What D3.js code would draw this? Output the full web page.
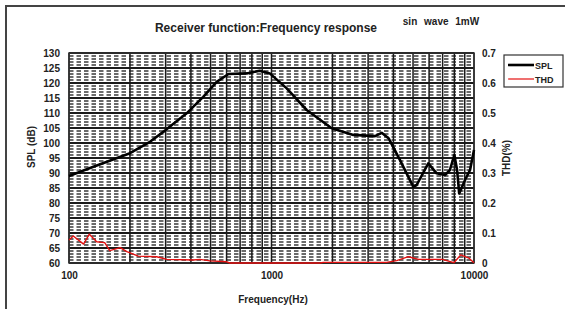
<!DOCTYPE html>
<html>
<head>
<meta charset="utf-8">
<script src="https://cdn.jsdelivr.net/npm/d3@7"></script>
<style>
  body { margin: 0; background: #fff; }
  svg { display: block; font-family: "Liberation Sans", Arial, sans-serif; }
  .tick-lbl { font-size: 10px; font-weight: bold; fill: #222; }
</style>
</head>
<body>
<svg id="chart" width="565" height="309"></svg>
<script>
// ---- data ----
var splFreq = [100, 132, 200, 251, 300, 381, 460, 536, 613, 754, 875, 981, 1189, 1492, 1983, 2535, 3245, 3500, 3784, 4311, 5015, 5210, 5945, 6541, 7193, 7600, 7998, 8250, 8450, 9033, 9560, 10000];
var splVal  = [89.0, 92.1, 96.6, 100.4, 104.3, 109.9, 115.4, 120.4, 123.0, 123.2, 124.1, 123.2, 118.2, 111.0, 104.9, 102.7, 102.3, 103.4, 101.6, 94.3, 85.4, 86.0, 93.2, 89.9, 89.3, 91.0, 96.0, 91.0, 83.2, 87.7, 91.0, 97.7];

var thdFreq = [100, 105, 118, 126, 137, 150, 159, 179, 193, 220, 271, 304, 411, 443, 497, 600, 624, 1736, 1803, 3700, 4150, 4745, 5330, 6090, 6965, 7960, 8600, 9450, 10000];
var thdVal  = [0.077, 0.09, 0.063, 0.096, 0.071, 0.068, 0.041, 0.051, 0.038, 0.023, 0.021, 0.012, 0.010, 0.012, 0.007, 0.004, 0, 0, 0.002, 0.002, 0.008, 0.021, 0.012, 0.012, 0.012, 0.001, 0.027, 0.016, 0.001];

var splTicks = d3.range(60, 131, 5);
var thdTicks = [0, 0.1, 0.2, 0.3, 0.4, 0.5, 0.6, 0.7];
var freqTicks = [100, 1000, 10000];
var legendKeys = ['SPL', 'THD'];
var legendColors = ['#000', '#e41010'];

var svg = d3.select("#chart");
var margin = {top: 53, left: 69, bottom: 46, right: 91};
var width = 565, height = 309;

// outer chart frame (runs off the picture at right/bottom)
svg.append("rect")
    .attr("x", 6).attr("y", 6)
    .attr("width", 700).attr("height", 400)
    .attr("fill", "#fff")
    .attr("stroke", "#444").attr("stroke-width", 2);

var x = d3.scaleLog()
    .domain([100, 10000])
    .range([margin.left, width - margin.right]);

var y = d3.scaleLinear()
    .domain([60, 130])
    .range([height - margin.bottom, margin.top]);

var y2 = d3.scaleLinear()
    .domain([0, 0.7])
    .range([height - margin.bottom, margin.top]);

var x0 = x.range()[0], x1 = x.range()[1];
var yb = y.range()[0], yt = y.range()[1];

var grid = svg.append("g");

// fine hatching: dashed horizontal lines every 1 dB
grid.selectAll("line.minor-h")
    .data(d3.range(60, 130, 1).filter(d => d % 5 != 0))
  .enter().append("line")
    .attr("x1", x0).attr("x2", x1)
    .attr("y1", d => y(d)).attr("y2", d => y(d))
    .attr("stroke", "#3a3a3a").attr("stroke-width", 1.3)
    .attr("stroke-dasharray", "4.5,3");

// log-decade vertical grid
var vlines = [];
[100, 1000].forEach(function(dec) {
    for (var k = 1; k <= 9; k++) vlines.push(dec * k);
});
vlines.push(10000);

grid.selectAll("line.major-v")
    .data(vlines)
  .enter().append("line")
    .attr("x1", d => x(d)).attr("x2", d => x(d))
    .attr("y1", yt).attr("y2", yb)
    .attr("stroke", "#1a1a1a").attr("stroke-width", 1.5);

grid.selectAll("line.major-h")
    .data(splTicks)
  .enter().append("line")
    .attr("x1", x0).attr("x2", x1)
    .attr("y1", d => y(d)).attr("y2", d => y(d))
    .attr("stroke", "#1a1a1a").attr("stroke-width", 1.8);

grid.append("rect")
    .attr("x", x0).attr("y", yt)
    .attr("width", x1 - x0).attr("height", yb - yt)
    .attr("fill", "none").attr("stroke", "#333").attr("stroke-width", 1.5);

// axes (labels only, like the Excel original)
var yAxis = svg.append("g")
    .attr("transform", `translate(${x0 - 9},0)`)
    .call(d3.axisLeft(y).tickValues(splTicks).tickSize(0).tickPadding(0));
var y2Axis = svg.append("g")
    .attr("transform", `translate(${x1 + 8},0)`)
    .call(d3.axisRight(y2).tickValues(thdTicks).tickSize(0).tickPadding(0)
        .tickFormat(d => d === 0 ? "0" : d3.format(".1f")(d)));
var xAxis = svg.append("g")
    .attr("transform", `translate(0,${yb + 9})`)
    .call(d3.axisBottom(x).tickValues(freqTicks).tickSize(0).tickPadding(0)
        .tickFormat(d3.format("d")));

[yAxis, y2Axis, xAxis].forEach(function(a) {
    a.select(".domain").remove();
    a.selectAll("text").attr("class", "tick-lbl").attr("font-family", null).attr("font-size", null);
});

// series
var splLine = d3.line()
    .x((d, i) => x(splFreq[i]))
    .y(d => y(d));
var thdLine = d3.line()
    .x((d, i) => x(thdFreq[i]))
    .y(d => y2(d));

svg.append("path")
    .datum(thdVal)
    .attr("d", thdLine)
    .attr("fill", "none")
    .attr("stroke", legendColors[1]).attr("stroke-width", 1.4)
    .attr("stroke-linejoin", "round");

svg.append("path")
    .datum(splVal)
    .attr("d", splLine)
    .attr("fill", "none")
    .attr("stroke", legendColors[0]).attr("stroke-width", 2.6)
    .attr("stroke-linejoin", "round");

// titles
svg.append("text")
    .attr("x", 266).attr("y", 32)
    .attr("text-anchor", "middle")
    .attr("font-size", "12px").attr("font-weight", "bold").attr("fill", "#222")
    .text("Receiver function:Frequency response");

svg.append("text")
    .attr("x", 441).attr("y", 25)
    .attr("text-anchor", "middle")
    .attr("font-size", "10px").attr("font-weight", "bold").attr("fill", "#222")
    .attr("word-spacing", "4px")
    .text("sin wave 1mW");

svg.append("text")
    .attr("transform", "translate(35,147) rotate(-90)")
    .attr("text-anchor", "middle")
    .attr("font-size", "10px").attr("font-weight", "bold").attr("fill", "#222")
    .text("SPL (dB)");

svg.append("text")
    .attr("transform", "translate(510,158) rotate(-90)")
    .attr("text-anchor", "middle")
    .attr("font-size", "10px").attr("font-weight", "bold").attr("fill", "#222")
    .text("THD(%)");

svg.append("text")
    .attr("x", 273).attr("y", 303)
    .attr("text-anchor", "middle")
    .attr("font-size", "10px").attr("font-weight", "bold").attr("fill", "#222")
    .text("Frequency(Hz)");

// legend
var legend = svg.append("g").attr("transform", "translate(504,55)");
legend.append("rect")
    .attr("width", 59).attr("height", 32)
    .attr("fill", "#fff").attr("stroke", "#333").attr("stroke-width", 1.2);

var items = legend.selectAll("g.item")
    .data(legendKeys)
  .enter().append("g")
    .attr("transform", (d, i) => `translate(0,${10 + i * 14})`);

items.append("line")
    .attr("x1", 4).attr("x2", 30)
    .attr("stroke", (d, i) => legendColors[i])
    .attr("stroke-width", (d, i) => i == 0 ? 2.6 : 1.2);

items.append("text")
    .attr("x", 31).attr("y", 3.5)
    .attr("font-size", "9px").attr("font-weight", "bold").attr("fill", "#222")
    .text(d => d);
</script>
</body>
</html>
